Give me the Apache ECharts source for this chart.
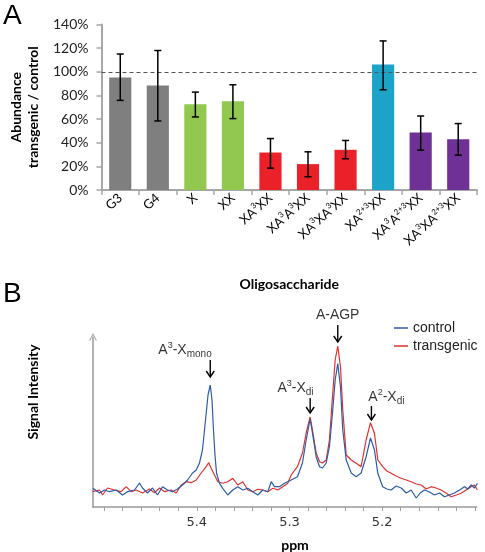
<!DOCTYPE html>
<html><head><meta charset="utf-8">
<script src="https://cdn.jsdelivr.net/npm/echarts@6/dist/echarts.min.js"></script>
<style>html,body{margin:0;padding:0;background:#fff}#c{width:485px;height:552px}</style>
</head><body><div id="c"></div>
<script>
// ---------- Panel A data ----------
const categories = ['G3','G4','X','XX','XA^{3}XX','XA^{3}A^{3}XX','XA^{3}XA^{3}XX','XA^{2+3}XX','XA^{3}A^{2+3}XX','XA^{3}XA^{2+3}XX'];
const abundance = [0.952, 0.885, 0.725, 0.750, 0.317, 0.219, 0.340, 1.062, 0.486, 0.430];
const errLow    = [0.758, 0.584, 0.618, 0.604, 0.185, 0.112, 0.264, 0.848, 0.337, 0.295];
const errHigh   = [1.150, 1.180, 0.828, 0.890, 0.435, 0.323, 0.419, 1.261, 0.626, 0.562];
const yTicksA = [0, 0.2, 0.4, 0.6, 0.8, 1.0, 1.2, 1.4];
const referenceLevel = 1.0;
const barColors = ['#7f7f7f','#7f7f7f','#92c850','#92c850','#ea2128','#ea2128','#ea2128','#1ca3c8','#6f3195','#6f3195'];

// ---------- Panel B data (ppm, signal) ----------
const controlSpectrum = [[5.5122,18.7],[5.5050,14],[5.4996,17],[5.4942,15.3],[5.4869,17],[5.4802,12],[5.4748,15.3],[5.4672,17],[5.4618,24],[5.4586,19],[5.4532,14],[5.4478,19],[5.4424,12],[5.4370,20.3],[5.4316,17],[5.4262,15.3],[5.4208,18],[5.4154,22],[5.4100,27],[5.4046,34],[5.4006,37],[5.3971,44],[5.3939,57],[5.3906,87],[5.3879,112],[5.3855,122],[5.3836,107],[5.3820,77],[5.3804,52],[5.3787,34],[5.3755,23.7],[5.3720,18.7],[5.3666,12],[5.3612,17],[5.3558,20.3],[5.3504,17],[5.3450,18.7],[5.3396,15.3],[5.3342,12],[5.3288,17],[5.3234,15.3],[5.3197,25.3],[5.3162,20.3],[5.3108,20.3],[5.3054,23.7],[5.2982,27],[5.2914,30.3],[5.2860,44],[5.2820,67],[5.2777,88],[5.2752,74],[5.2712,50.3],[5.2676,40.3],[5.2644,39],[5.2604,44],[5.2569,60.3],[5.2536,94],[5.2507,127],[5.2479,143.5],[5.2450,120.3],[5.2425,77],[5.2388,47],[5.2334,34],[5.2280,30.3],[5.2227,34],[5.2173,50.3],[5.2126,69],[5.2083,57],[5.2047,33.7],[5.1994,20.3],[5.1950,18],[5.1903,17],[5.1850,21],[5.1795,19],[5.1740,14],[5.1687,17],[5.1633,9],[5.1590,14],[5.1544,17],[5.1490,15],[5.1436,12],[5.1380,14],[5.1328,10.3],[5.1275,12],[5.1220,14],[5.1165,17],[5.1112,20.3],[5.1075,18],[5.1040,22],[5.1005,19],[5.0972,23.7]];
const transgenicSpectrum = [[5.5125,15.3],[5.5050,17],[5.5017,12],[5.4964,19],[5.4888,17],[5.4816,15.3],[5.4762,20.3],[5.4708,15.3],[5.4654,17],[5.4586,14],[5.4510,18],[5.4456,14.3],[5.4402,19],[5.4348,15.3],[5.4276,17],[5.4222,14],[5.4168,22],[5.4114,25.3],[5.4060,24.3],[5.4006,27],[5.3953,34],[5.3899,40.3],[5.3871,44.3],[5.3845,38.7],[5.3809,32],[5.3773,25.3],[5.3720,23.7],[5.3666,25.3],[5.3612,28.7],[5.3558,22],[5.3504,25.3],[5.3450,17],[5.3396,15.3],[5.3342,17.7],[5.3288,17],[5.3234,15.3],[5.3180,18.7],[5.3126,17],[5.3072,20.3],[5.3018,23.7],[5.2982,32],[5.2914,40.3],[5.2860,54],[5.2820,74],[5.2777,90],[5.2752,77],[5.2712,54],[5.2676,45.3],[5.2644,44],[5.2604,47],[5.2569,67],[5.2536,110.3],[5.2507,147],[5.2479,161],[5.2450,140.3],[5.2425,97],[5.2388,52],[5.2334,47],[5.2280,43.7],[5.2227,40.3],[5.2173,67],[5.2126,84.3],[5.2083,73.7],[5.2047,47],[5.1994,40.3],[5.1950,36],[5.1903,33.7],[5.1850,31],[5.1795,28.7],[5.1740,27],[5.1687,25.3],[5.1630,23],[5.1579,22],[5.1525,18],[5.1471,20.3],[5.1420,19],[5.1364,17],[5.1310,14],[5.1256,10.3],[5.1200,12],[5.1148,13.7],[5.1095,17],[5.1040,20.3],[5.1005,22],[5.0972,17]];
const peakLabels = [
  {name:'A^{3}-X_{mono}', value:[5.4127, 157]},
  {name:'A^{3}-X_{di}',   value:[5.2935, 119]},
  {name:'A-AGP',          value:[5.2480, 192]},
  {name:'A^{2}-X_{di}',   value:[5.1954, 110]}
];
const peakArrows = [[5.3855,147,130],[5.2777,109,94],[5.2479,182,165],[5.2116,101,87]];
const ppmLabels = [5.4, 5.3, 5.2];
const ppmTicks = [5.50,5.48,5.46,5.44,5.42,5.40,5.38,5.36,5.34,5.32,5.30,5.28,5.26,5.24,5.22,5.20,5.18,5.16,5.14,5.12,5.10];

function toRich(s){
  const out=[]; const re=/\^\{([^}]*)\}|_\{([^}]*)\}|([^\^_]+)/g; let m;
  while((m=re.exec(s))){
    if(m[1]!==undefined) out.push('{sup|'+m[1]+'}');
    else if(m[2]!==undefined) out.push('{sub|'+m[2]+'}');
    else out.push('{n|'+m[3]+'}');
  }
  return out.join('');
}

const chart = echarts.init(document.getElementById('c'), null, {renderer:'canvas'});
const boldFont = 'Lato';
chart.setOption({
  backgroundColor:'#fff',
  animation:false,
  graphic:[
    {type:'text', left:3, top:2, style:{text:'A', font:'28px "Liberation Sans"', fill:'#000'}},
    {type:'text', left:3, top:280, style:{text:'B', font:'28px "Liberation Sans"', fill:'#000'}},
    {type:'text', x:33, y:392, rotation:Math.PI/2, style:{text:'Signal Intensity', font:'bold 14px '+boldFont, fill:'#000', align:'center', verticalAlign:'middle'}},
    {type:'text', x:295, y:545, style:{text:'ppm', font:'bold 14px '+boldFont, fill:'#000', align:'center', verticalAlign:'middle'}}
  ],
  legend:{
    data:['control','transgenic'], orient:'vertical', left:389, top:316,
    icon:'rect', itemWidth:14, itemHeight:1.5, itemGap:4,
    textStyle:{fontFamily:'Liberation Sans', fontSize:14, color:'#222'}
  },
  grid:[
    {left:96, right:8, top:24.5, height:165.5},
    {left:93, right:8.3, top:337, height:170}
  ],
  xAxis:[
    {type:'category', gridIndex:0, data:categories,
     axisLine:{lineStyle:{color:'#a6a6a6', width:2}},
     axisTick:{show:true, alignWithLabel:false, length:5, lineStyle:{color:'#a6a6a6', width:1.5}},
     axisLabel:{interval:0, rotate:42, margin:6, formatter:v=>toRich(v),
       rich:{n:{fontFamily:'Lato', fontSize:13, color:'#000', lineHeight:16},
             sup:{fontFamily:'Lato', fontSize:8, color:'#000', lineHeight:8, verticalAlign:'top'},
             sub:{fontFamily:'Lato', fontSize:8, color:'#000', lineHeight:8, verticalAlign:'bottom'}}},
     name:'Oligosaccharide', nameLocation:'middle', nameGap:87,
     nameTextStyle:{fontFamily:boldFont, fontWeight:'bold', fontSize:14, color:'#000'}},
    {type:'value', gridIndex:1, inverse:true, min:5.098, max:5.512,
     axisLine:{show:true, lineStyle:{color:'#9a9a9a', width:1.5}},
     axisTick:{show:true, customValues:ppmTicks, length:4, lineStyle:{color:'#9a9a9a', width:1}},
     axisLabel:{customValues:ppmLabels, formatter:v=>v.toFixed(1), margin:9,
       fontFamily:'DejaVu Sans', fontSize:13, color:'#333'},
     splitLine:{show:false}}
  ],
  yAxis:[
    {type:'value', gridIndex:0, min:0, max:1.4, interval:0.2,
     axisLine:{show:true, lineStyle:{color:'#a6a6a6', width:2}},
     axisTick:{show:true, length:5, lineStyle:{color:'#a6a6a6', width:1.5}},
     axisLabel:{formatter:v=>Math.round(v*100)+'%', margin:13, fontFamily:'Lato', fontSize:14, color:'#222'},
     splitLine:{show:false},
     name:'Abundance\ntransgenic / control', nameLocation:'middle', nameGap:57,
     nameTextStyle:{fontFamily:boldFont, fontWeight:'bold', fontSize:14, lineHeight:17, color:'#000'}},
    {type:'value', gridIndex:1, min:0, max:170,
     axisLine:{show:true, symbol:['none','path://M0,10 L5,0 L10,10 L9,10.6 L5,2.2 L1,10.6 Z'], symbolSize:[10,8], lineStyle:{color:'#9a9a9a', width:1.5}},
     axisTick:{show:false}, axisLabel:{show:false}, splitLine:{show:false}}
  ],
  series:[
    {type:'bar', xAxisIndex:0, yAxisIndex:0, data:abundance, barCategoryGap:'41%',
     itemStyle:{color:p=>barColors[p.dataIndex]},
     markLine:{silent:true, symbol:'none', label:{show:false},
       lineStyle:{type:[4,3], color:'#555', width:1}, data:[{yAxis:referenceLevel}]}},
    {type:'custom', xAxisIndex:0, yAxisIndex:0, z:10,
     data:categories.map((c,i)=>[i, errLow[i], errHigh[i]]),
     encode:{x:0, y:[1,2]},
     renderItem:(params, api)=>{
       const i=api.value(0);
       const a=api.coord([i, api.value(1)]), b=api.coord([i, api.value(2)]);
       const hw=3.5, st={stroke:'#000', lineWidth:1.5};
       return {type:'group', children:[
         {type:'line', shape:{x1:a[0],y1:a[1],x2:b[0],y2:b[1]}, style:st},
         {type:'line', shape:{x1:a[0]-hw,y1:a[1],x2:a[0]+hw,y2:a[1]}, style:st},
         {type:'line', shape:{x1:b[0]-hw,y1:b[1],x2:b[0]+hw,y2:b[1]}, style:st}
       ]};
     }},
    {name:'transgenic', type:'line', xAxisIndex:1, yAxisIndex:1, data:transgenicSpectrum,
     showSymbol:false, symbol:'none', lineStyle:{color:'#e2312f', width:1.2}, itemStyle:{color:'#e2312f'}},
    {name:'control', type:'line', xAxisIndex:1, yAxisIndex:1, data:controlSpectrum,
     showSymbol:false, symbol:'none', lineStyle:{color:'#2b5ca6', width:1.2}, itemStyle:{color:'#2b5ca6'}},
    {type:'scatter', xAxisIndex:1, yAxisIndex:1, data:peakLabels, symbolSize:0, clip:false, silent:true,
     label:{show:true, position:'inside', formatter:p=>toRich(p.name),
       rich:{n:{fontFamily:'Liberation Sans', fontSize:14, color:'#000', lineHeight:18},
             sup:{fontFamily:'Liberation Sans', fontSize:9, color:'#000', lineHeight:9, verticalAlign:'top'},
             sub:{fontFamily:'Liberation Sans', fontSize:10, color:'#000', lineHeight:10, verticalAlign:'bottom'}}}},
    {type:'custom', xAxisIndex:1, yAxisIndex:1, clip:false, silent:true, data:peakArrows,
     encode:{x:0, y:[1,2]},
     renderItem:(params, api)=>{
       const a=api.coord([api.value(0), api.value(1)]), b=api.coord([api.value(0), api.value(2)]);
       const st={stroke:'#000', lineWidth:1.4, fill:null};
       return {type:'group', children:[
         {type:'line', shape:{x1:a[0],y1:a[1],x2:b[0],y2:b[1]}, style:st},
         {type:'polyline', shape:{points:[[b[0]-4,b[1]-6],[b[0],b[1]],[b[0]+4,b[1]-6]]}, style:st}
       ]};
     }}
  ]
});
</script></body></html>
